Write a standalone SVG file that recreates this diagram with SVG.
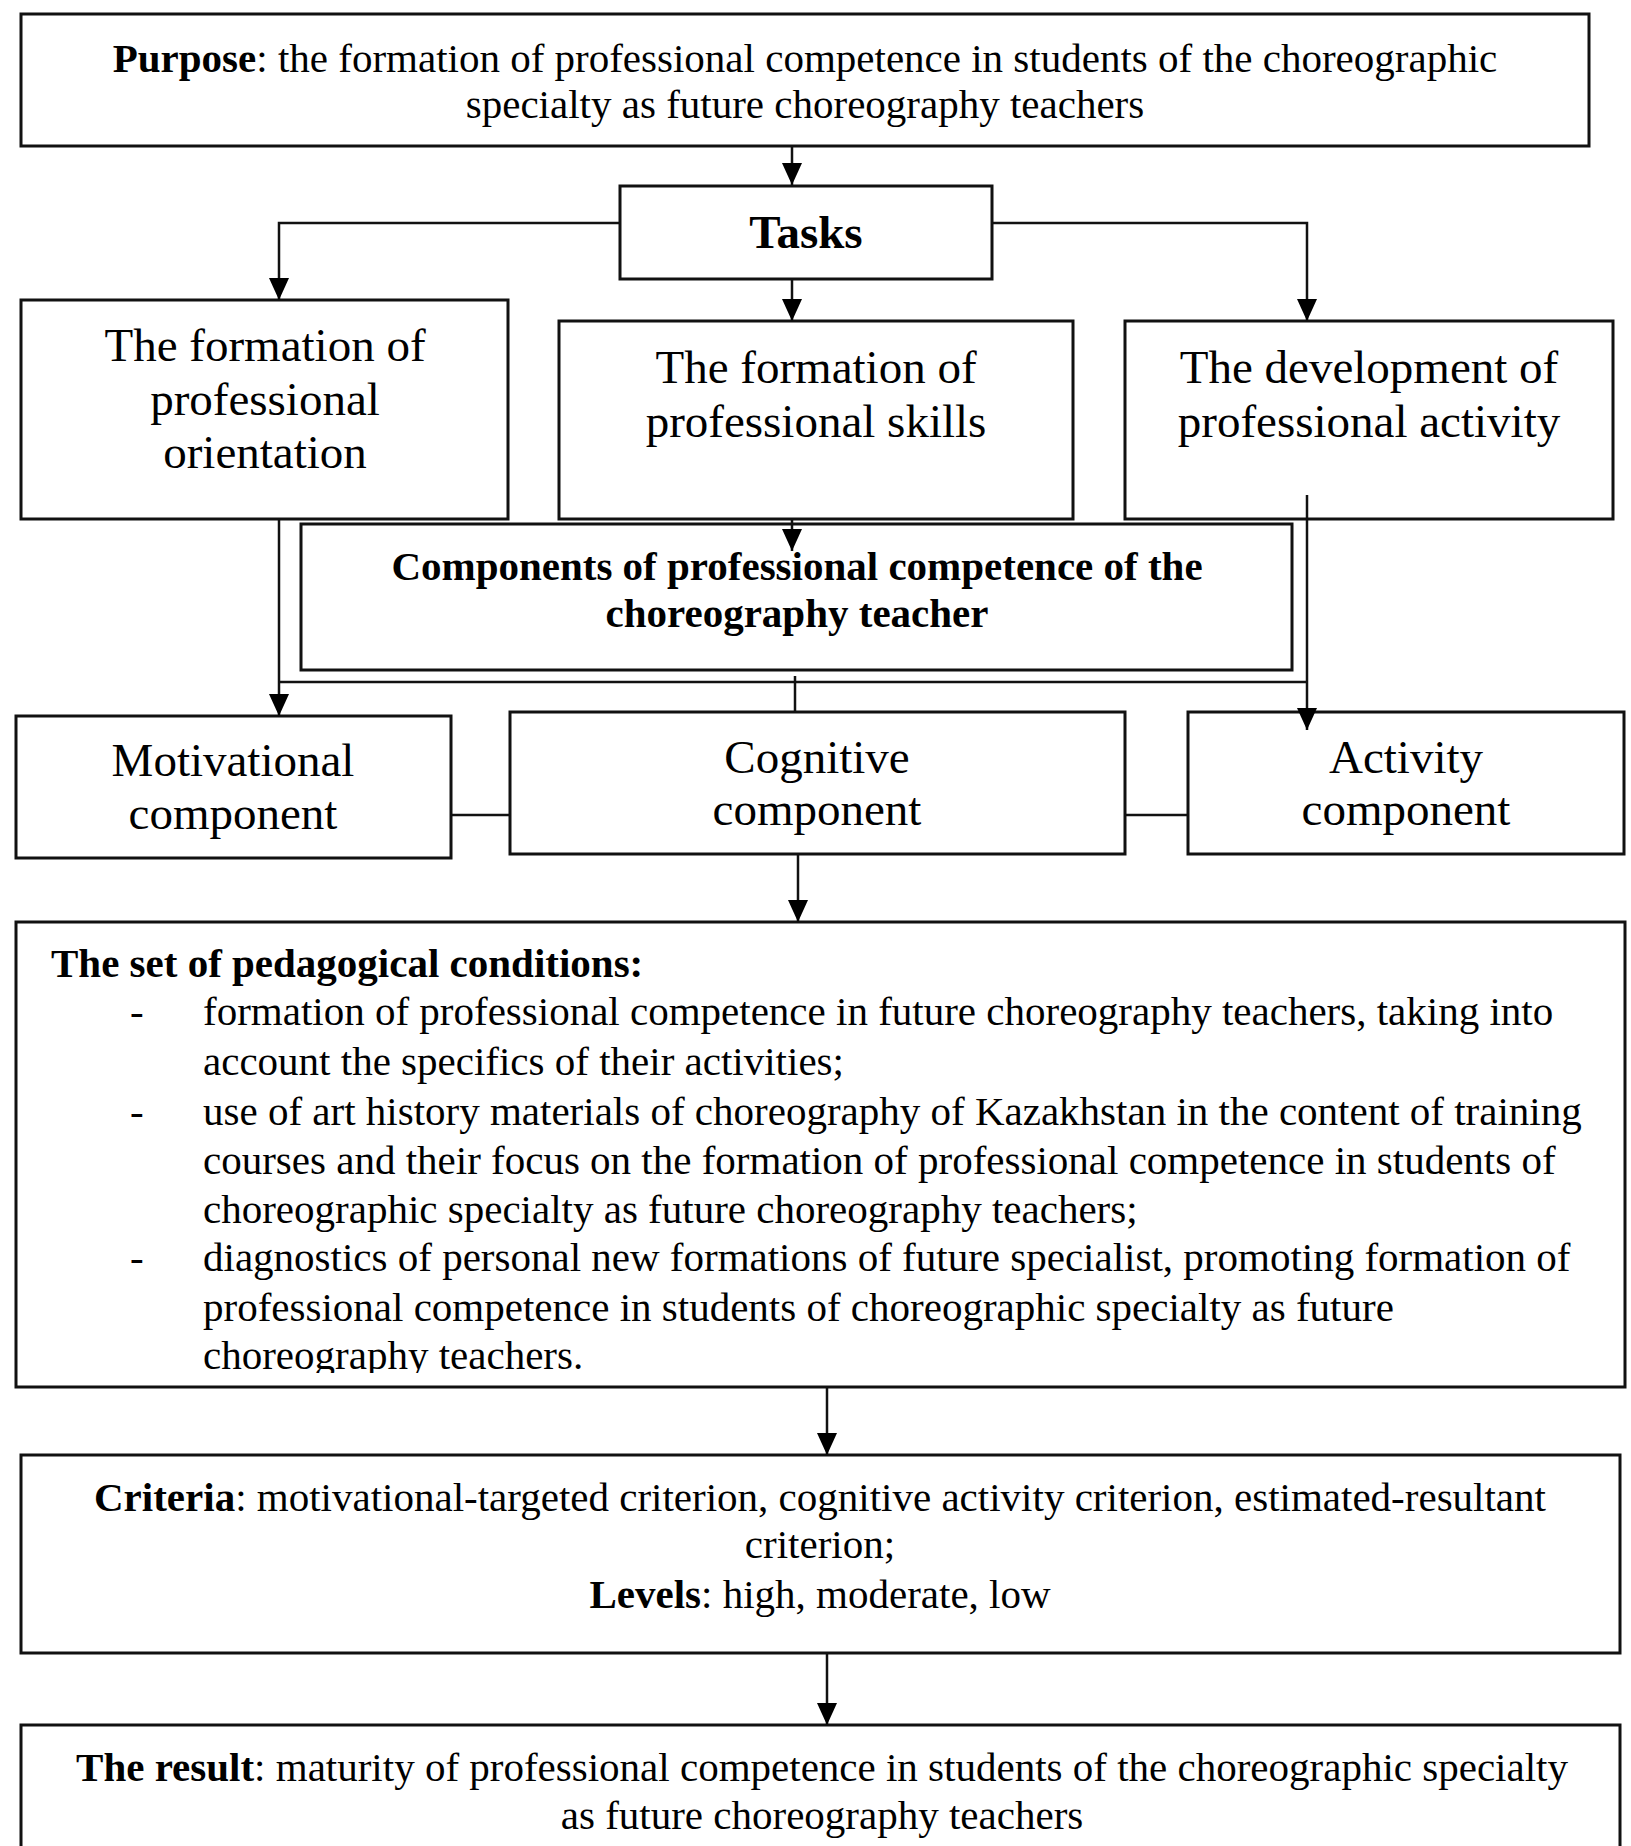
<svg xmlns="http://www.w3.org/2000/svg" width="1631" height="1846" viewBox="0 0 1631 1846">
<style>
.box{fill:#fff;stroke:#111;stroke-width:3}
.t{font-family:"Liberation Serif","Times New Roman",serif;fill:#000}
.n{font-size:47px;text-anchor:middle}
.s{font-size:41px}
.c{text-anchor:middle}
.b{font-weight:bold}
.ln{fill:none;stroke:#111;stroke-width:2.5}
</style>
<defs>
<marker id="ah" viewBox="0 0 22 20" refX="22" refY="10" markerWidth="22" markerHeight="20" markerUnits="userSpaceOnUse" orient="auto">
<path d="M0,0 L22,10 L0,20 z" fill="#000"/>
</marker>
<clipPath id="clipLast"><rect x="0" y="1300" width="1631" height="73"/></clipPath>
</defs>
<rect width="1631" height="1846" fill="#fff"/>

<g id="purpose">
<rect class="box" x="21" y="14" width="1568" height="132"/>
<text class="t s c" x="805" y="72"><tspan class="b">Purpose</tspan>: the formation of professional competence in students of the choreographic</text>
<text class="t s c" x="805" y="118">specialty as future choreography teachers</text>
</g>

<g id="tasks">
<rect class="box" x="620" y="186" width="372" height="93"/>
<text class="t n b" x="806" y="248">Tasks</text>
</g>

<g id="orientation">
<rect class="box" x="21" y="300" width="487" height="219"/>
<text class="t n" x="265" y="361">The formation of</text>
<text class="t n" x="265" y="415">professional</text>
<text class="t n" x="265" y="468">orientation</text>
</g>

<g id="skills">
<rect class="box" x="559" y="321" width="514" height="198"/>
<text class="t n" x="816" y="383">The formation of</text>
<text class="t n" x="816" y="437">professional skills</text>
</g>

<g id="development">
<rect class="box" x="1125" y="321" width="488" height="198"/>
<text class="t n" x="1369" y="383">The development of</text>
<text class="t n" x="1369" y="437">professional activity</text>
</g>

<g id="components">
<rect class="box" x="301" y="524" width="991" height="146"/>
<text class="t s c b" x="797" y="580">Components of professional competence of the</text>
<text class="t s c b" x="797" y="627">choreography teacher</text>
</g>

<g id="motivational">
<rect class="box" x="16" y="716" width="435" height="142"/>
<text class="t n" x="233" y="776">Motivational</text>
<text class="t n" x="233" y="829">component</text>
</g>

<g id="cognitive">
<rect class="box" x="510" y="712" width="615" height="142"/>
<text class="t n" x="817" y="773">Cognitive</text>
<text class="t n" x="817" y="825">component</text>
</g>

<g id="activity">
<rect class="box" x="1188" y="712" width="436" height="142"/>
<text class="t n" x="1406" y="773">Activity</text>
<text class="t n" x="1406" y="825">component</text>
</g>

<g id="conditions">
<rect class="box" x="16" y="922" width="1609" height="465"/>
<text class="t s b" x="51" y="977">The set of pedagogical conditions:</text>
<text class="t s" x="130" y="1025">-</text>
<text class="t s" x="203" y="1025">formation of professional competence in future choreography teachers, taking into</text>
<text class="t s" x="203" y="1075">account the specifics of their activities;</text>
<text class="t s" x="130" y="1125">-</text>
<text class="t s" x="203" y="1125">use of art history materials of choreography of Kazakhstan in the content of training</text>
<text class="t s" x="203" y="1174">courses and their focus on the formation of professional competence in students of</text>
<text class="t s" x="203" y="1223">choreographic specialty as future choreography teachers;</text>
<text class="t s" x="130" y="1271">-</text>
<text class="t s" x="203" y="1271">diagnostics of personal new formations of future specialist, promoting formation of</text>
<text class="t s" x="203" y="1321">professional competence in students of choreographic specialty as future</text>
<text class="t s" x="203" y="1369" clip-path="url(#clipLast)">choreography teachers.</text>
</g>

<g id="criteria">
<rect class="box" x="21" y="1455" width="1599" height="198"/>
<text class="t s c" x="820" y="1511"><tspan class="b">Criteria</tspan>: motivational-targeted criterion, cognitive activity criterion, estimated-resultant</text>
<text class="t s c" x="820" y="1558">criterion;</text>
<text class="t s c" x="820" y="1608"><tspan class="b">Levels</tspan>: high, moderate, low</text>
</g>

<g id="result">
<rect class="box" x="21" y="1725" width="1599" height="140"/>
<text class="t s c" x="822" y="1781"><tspan class="b">The result</tspan>: maturity of professional competence in students of the choreographic specialty</text>
<text class="t s c" x="822" y="1829">as future choreography teachers</text>
</g>

<g id="connectors">
<path class="ln" d="M792,147 V185" marker-end="url(#ah)"/>
<path class="ln" d="M620,223 H279 V300" marker-end="url(#ah)"/>
<path class="ln" d="M992,223 H1307 V321" marker-end="url(#ah)"/>
<path class="ln" d="M792,279 V321" marker-end="url(#ah)"/>
<path class="ln" d="M792,519 V551" marker-end="url(#ah)"/>
<path class="ln" d="M279,519 V716" marker-end="url(#ah)"/>
<path class="ln" d="M1307,495 V730" marker-end="url(#ah)"/>
<path class="ln" d="M279,682 H1307"/>
<path class="ln" d="M795,676 V712"/>
<path class="ln" d="M451,815 H510"/>
<path class="ln" d="M1125,815 H1188"/>
<path class="ln" d="M798,854 V922" marker-end="url(#ah)"/>
<path class="ln" d="M827,1387 V1455" marker-end="url(#ah)"/>
<path class="ln" d="M827,1653 V1725" marker-end="url(#ah)"/>
</g>
</svg>
